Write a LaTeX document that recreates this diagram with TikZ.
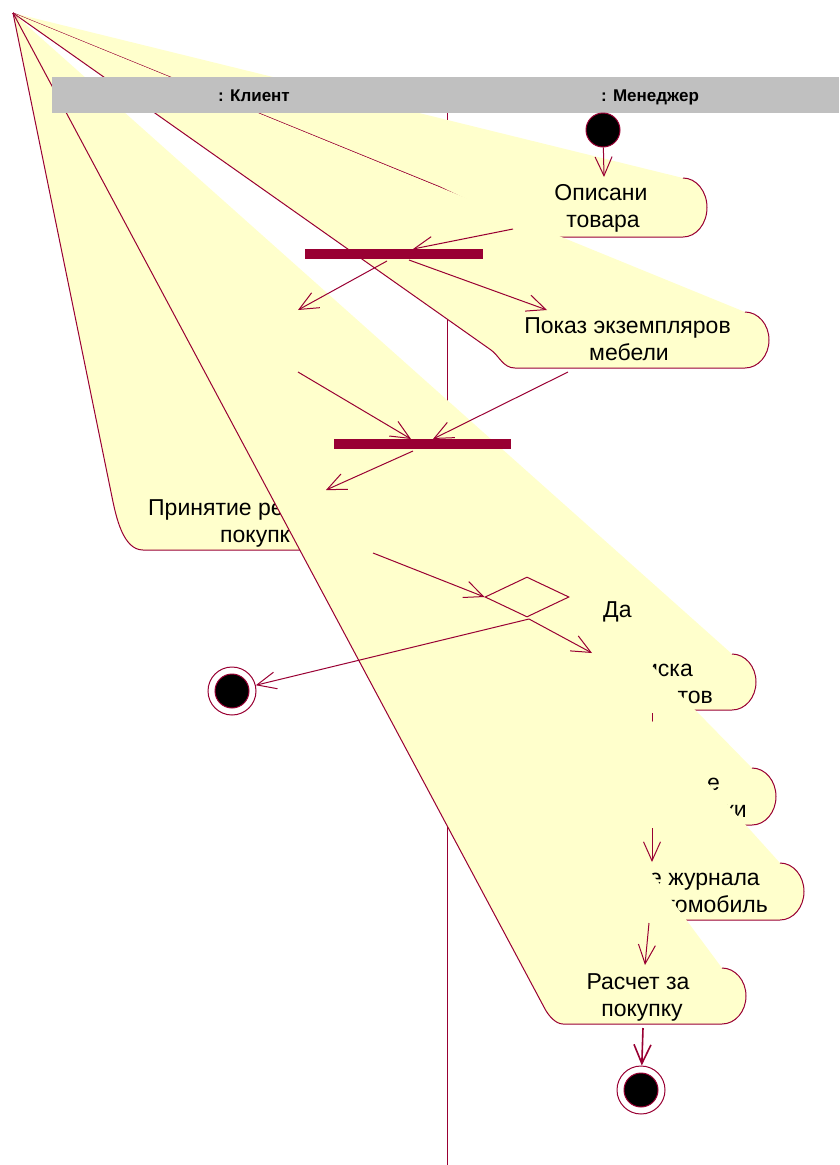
\documentclass[tikz,border=0pt]{standalone}
\usepackage{fontspec}
\setmainfont{Liberation Sans}
\usetikzlibrary{arrows.meta,shapes.geometric,calc}
\definecolor{rosered}{RGB}{153,0,51}
\definecolor{actyellow}{RGB}{255,255,204}
\definecolor{hdrgray}{RGB}{192,192,192}
\newcommand\actfont{\fontsize{23}{27}\selectfont}
\newcommand\hdrfont{\fontsize{17}{20}\selectfont\bfseries}
% #1 x of right arc start, #2 top y, #3 bottom y, #4 x of bottom-left corner,
% #5 corner control arm, #6 point where the left side turns into a straight line to the apex,
% #7 tangent arm at that point
\newcommand\activity[7]{%
  \pgfmathsetmacro\actym{(#2+#3)/2}%
  \pgfmathsetmacro\actky{0.5523*(#3-#2)/2}%
  \coordinate (actM) at (#6);
  \coordinate (actC) at ($(actM)!-#7!(apex)$);
  \fill[actyellow] (apex) -- (#1,#2)
    .. controls ({#1+13.25},#2) and ({#1+24},{\actym-\actky}) .. ({#1+24},\actym)
    .. controls ({#1+24},{\actym+\actky}) and ({#1+13.25},#3) .. (#1,#3)
    -- (#4,#3)
    .. controls ({#4-#5},#3) and (actC) .. (actM) -- cycle;
  \draw[actline] (#1,#2)
    .. controls ({#1+13.25},#2) and ({#1+24},{\actym-\actky}) .. ({#1+24},\actym)
    .. controls ({#1+24},{\actym+\actky}) and ({#1+13.25},#3) .. (#1,#3)
    -- (#4,#3)
    .. controls ({#4-#5},#3) and (actC) .. (actM) -- (apex);
}
\begin{document}
\begin{tikzpicture}[x=1pt,y=-1pt,
  actline/.style={draw=rosered,line width=1pt,line join=round},
  txt/.style={font=\actfont,inner sep=0pt,anchor=base,text=black},
  trans/.style={draw=rosered,line width=1pt,-{Straight Barb[length=19pt,width=17pt]}},
  syncbar/.style={fill=rosered,inner sep=0pt,minimum height=10pt},
  statenode/.style={circle,draw=rosered,line width=1pt,inner sep=0pt},
  ]
\useasboundingbox (0,0) rectangle (839,1165);
\coordinate (apex) at (13,13);
\coordinate (laneTop) at (447,113);
\coordinate (laneBot) at (447,1165);
\draw[rosered,line width=1pt] (laneTop) -- (laneBot);

% activities, drawn in order (later fills cover earlier ones)
\activity{683}{178}{237}{545}{1}{440,187}{1pt}
\node[txt] (t1a) at (601,200) {Описани};
\node[txt] (t1b) at (603,227) {товара};

\activity{745}{312}{368}{515}{12}{491,350}{10pt}
\node[txt] (t2a) at (627.5,333) {Показ экземпляров};
\node[txt] (t2b) at (629,360) {мебели};

\activity{390}{494}{550}{143}{20}{112,497}{20pt}
\node[txt,anchor=base west] (t3a) at (148,515) {Принятие ре};
\node[txt,anchor=base west] (t3b) at (220,542) {покупк};

\activity{732}{654}{710}{590}{12}{570,690}{10pt}
\node[txt,anchor=base east] (t4a) at (693,676) {иска};
\node[txt,anchor=base east] (t4b) at (713,703) {тов};

\activity{752}{768}{825}{610}{12}{590,805}{10pt}
\node[txt,anchor=base east] (t5a) at (720,790) {е};
\node[txt,anchor=base east] (t5b) at (747,817) {ки};

\coordinate (s4out) at (652,713);
\coordinate (s5in) at (652,766);
\draw[trans] (s4out) -- (s5in);

\activity{780}{863}{920}{580}{12}{560,900}{10pt}
\node[txt,anchor=base east] (t6a) at (760,885) {е журнала};
\node[txt,anchor=base east] (t6b) at (768,912) {томобиль};

\activity{722}{968}{1024}{563}{8}{545,1009}{6pt}
\node[txt] (t7a) at (638,989) {Расчет за};
\node[txt] (t7b) at (642,1016) {покупку};

% swimlane header
\fill[hdrgray] (52,77) rectangle (839,113);
\node[font=\hdrfont,inner sep=0pt,anchor=base] (laneK) at (254,101) {: Клиент};
\node[font=\hdrfont,inner sep=0pt,anchor=base] (laneM) at (650,101) {: Менеджер};

% states, bars, decision
\node[statenode,fill=black,minimum size=34pt] (init) at (603,130) {};
\node[syncbar,minimum width=178pt] (bar1) at (394,254) {};
\node[syncbar,minimum width=177pt] (bar2) at (422.5,444) {};
\node[diamond,draw=rosered,line width=1pt,minimum width=84pt,minimum height=40pt,inner sep=0pt] (dec) at (527,597) {};
\node[statenode,fill=white,minimum size=48pt] (fin1) at (232,691) {};
\node[statenode,fill=black,minimum size=34pt] (fin1c) at (232,691) {};
\node[statenode,fill=white,minimum size=48pt] (fin2) at (641,1090) {};
\node[statenode,fill=black,minimum size=34pt] (fin2c) at (641,1090) {};

% connector end points
\coordinate (s1in) at (604,177);
\coordinate (s1out) at (513,229);
\coordinate (bar1in) at (413,249);
\coordinate (b1r) at (409,260);
\coordinate (s2in) at (547,310);
\coordinate (b1l) at (387,261);
\coordinate (hidin) at (298,310);
\coordinate (hidout) at (298,372);
\coordinate (b2inl) at (411,439);
\coordinate (s2out) at (568,372);
\coordinate (b2inr) at (433,439);
\coordinate (b2out) at (413,451);
\coordinate (s3in) at (326,490);
\coordinate (s3out) at (373,553);
\coordinate (decout) at (529,619);
\coordinate (s4in) at (592,653);
\coordinate (s5out) at (652,828);
\coordinate (s6in) at (652,862);
\coordinate (s6out) at (649,923);
\coordinate (s7in) at (645,965);
\coordinate (s7out) at (643,1028);

\draw[trans] (init) -- (s1in);
\draw[trans] (s1out) -- (bar1in);
\draw[trans] (b1r) -- (s2in);
\draw[trans] (b1l) -- (hidin);
\draw[trans] (hidout) -- (b2inl);
\draw[trans] (s2out) -- (b2inr);
\draw[trans] (b2out) -- (s3in);
\draw[trans] (s3out) -- (dec.west);
\draw[trans] (decout) -- (s4in);
\draw[trans] (decout) -- (fin1);
\draw[trans] (s5out) -- (s6in);
\draw[trans] (s6out) -- (s7in);
\draw[trans,line width=1.6pt] (s7out) -- (fin2);

\node[txt,anchor=base west] (guard) at (603,617) {Да};
\end{tikzpicture}
\end{document}
